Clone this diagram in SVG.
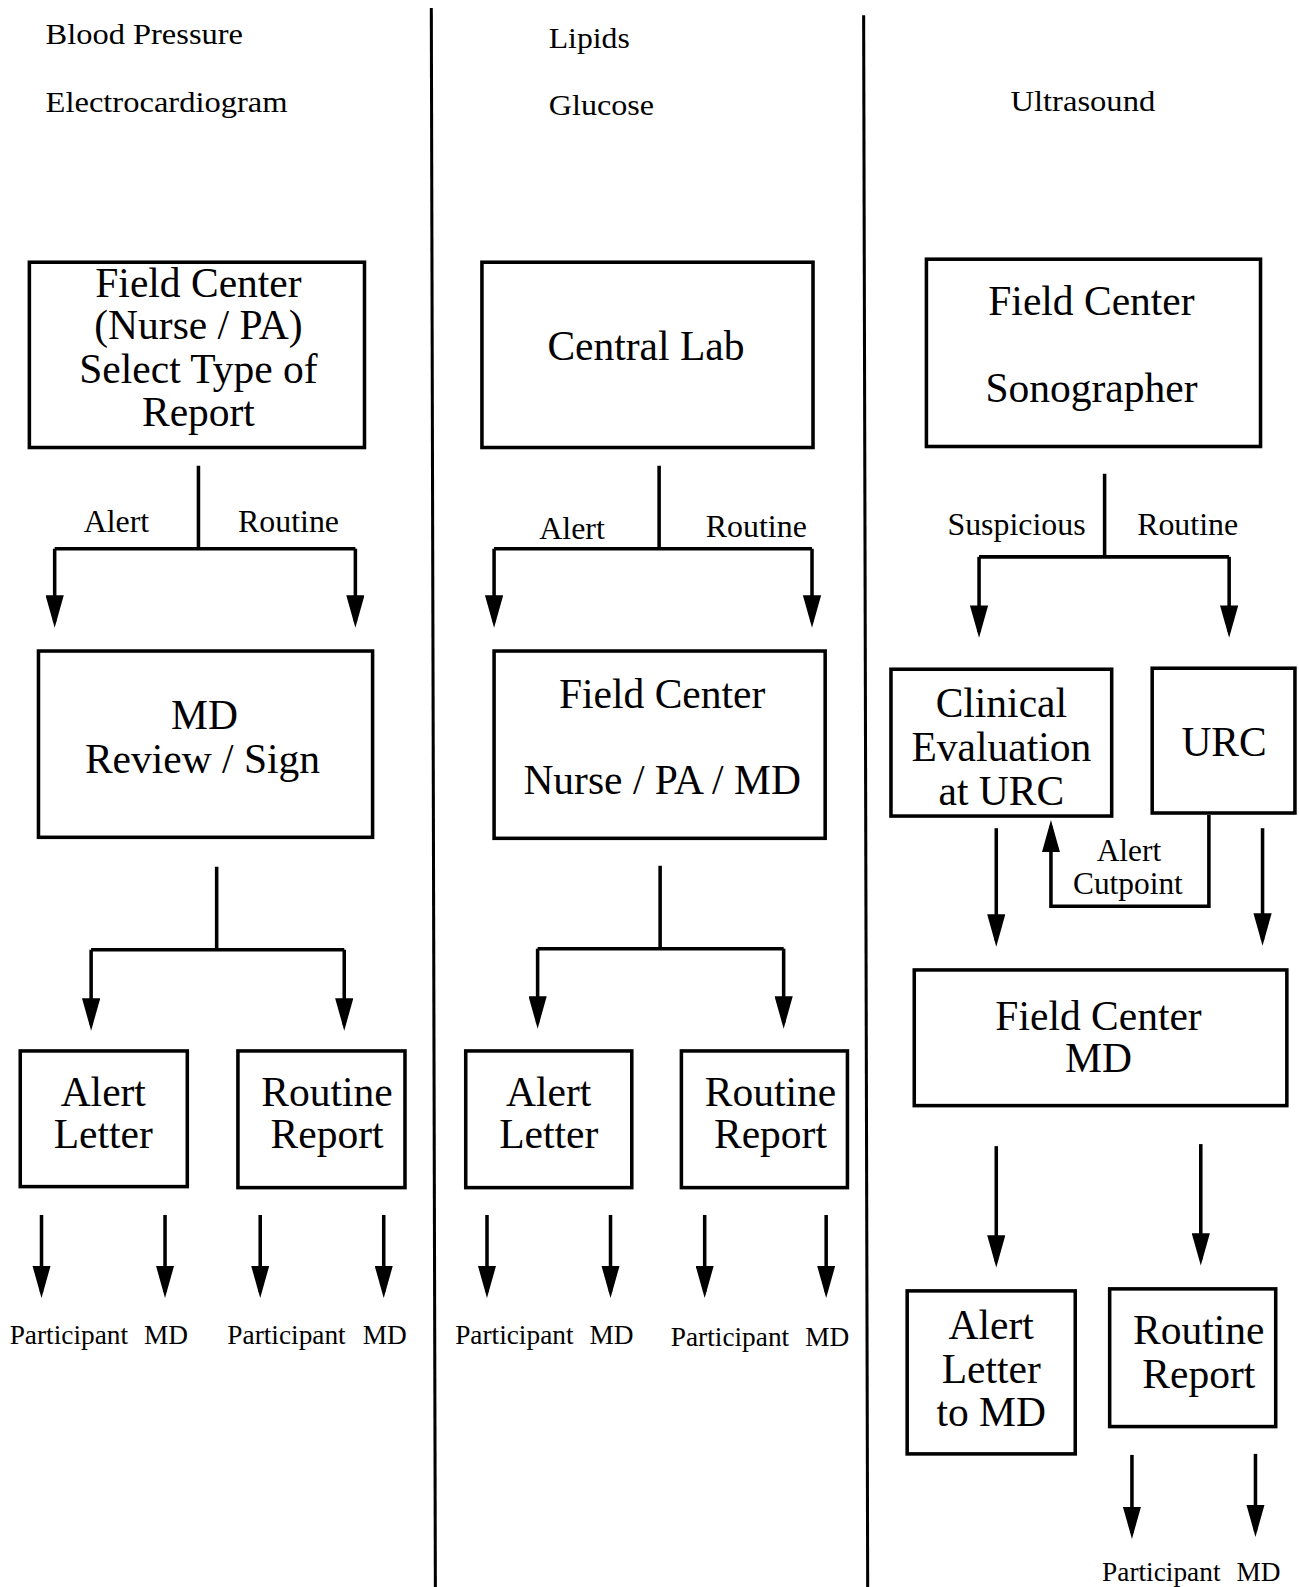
<svg xmlns="http://www.w3.org/2000/svg" width="1299" height="1587" viewBox="0 0 1299 1587">
<style>
.box{fill:none;stroke:#000;stroke-width:3.5}
.ln{fill:none;stroke:#000;stroke-width:3.5}
.arr{fill:none;stroke:#000;stroke-width:3.5;marker-end:url(#ah)}
.div{fill:none;stroke:#000;stroke-width:3}
.t40{font-family:"Liberation Serif",serif;font-size:41px;text-anchor:middle;fill:#000}
.t30{font-family:"Liberation Serif",serif;font-size:31.5px;text-anchor:middle;fill:#000}
.h{font-family:"Liberation Serif",serif;font-size:30px;fill:#000}
.t28{font-family:"Liberation Serif",serif;font-size:31px;text-anchor:middle;fill:#000}
.t26{font-family:"Liberation Serif",serif;font-size:27px;text-anchor:middle;fill:#000}
</style>
<defs>
<marker id="ah" markerUnits="userSpaceOnUse" viewBox="0 0 32 18" refX="26" refY="9" markerWidth="32" markerHeight="18" orient="auto">
<path d="M0,0 L32,9 L0,18 Z" fill="#000"/>
</marker>
</defs>
<rect width="1299" height="1587" fill="#fff"/>
<g transform="scale(1.01247)">
<g id="headers">
<text class="h" x="45" y="43" textLength="195" lengthAdjust="spacingAndGlyphs">Blood Pressure</text>
<text class="h" x="45" y="111" textLength="239" lengthAdjust="spacingAndGlyphs">Electrocardiogram</text>
<text class="h" x="542" y="47" textLength="80" lengthAdjust="spacingAndGlyphs">Lipids</text>
<text class="h" x="542" y="114" textLength="104" lengthAdjust="spacingAndGlyphs">Glucose</text>
<text class="h" x="998" y="110" textLength="143" lengthAdjust="spacingAndGlyphs">Ultrasound</text>
</g>
<g id="dividers">
<line class="div" x1="426" y1="8" x2="430" y2="1568"/>
<line class="div" x1="853" y1="15" x2="857" y2="1568"/>
</g>
<g id="connectors">
<path class="ln" d="M196,460 V542 M54,542 H351"/>
<path class="arr" d="M54,542 V614"/>
<path class="arr" d="M351,542 V614"/>
<path class="ln" d="M214,856 V938 M90,938 H340"/>
<path class="arr" d="M90,938 V1012"/>
<path class="arr" d="M340,938 V1012"/>
<path class="arr" d="M41,1200 V1276"/>
<path class="arr" d="M163,1200 V1276"/>
<path class="arr" d="M257,1200 V1276"/>
<path class="arr" d="M379,1200 V1276"/>
<path class="ln" d="M651,460 V542 M488,542 H802"/>
<path class="arr" d="M488,542 V614"/>
<path class="arr" d="M802,542 V614"/>
<path class="ln" d="M652,855 V937 M531,937 H774"/>
<path class="arr" d="M531,937 V1010"/>
<path class="arr" d="M774,937 V1010"/>
<path class="arr" d="M481,1200 V1276"/>
<path class="arr" d="M603,1200 V1276"/>
<path class="arr" d="M696,1200 V1276"/>
<path class="arr" d="M816,1200 V1276"/>
<path class="ln" d="M1091,468 V550 M967,550 H1214"/>
<path class="arr" d="M967,550 V624"/>
<path class="arr" d="M1214,550 V624"/>
<path class="arr" d="M984,818 V929"/>
<path class="arr" d="M1194,805 V895 H1038 V816"/>
<path class="arr" d="M1247,818 V928"/>
<path class="arr" d="M984,1132 V1246"/>
<path class="arr" d="M1186,1130 V1244"/>
<path class="arr" d="M1118,1437 V1514"/>
<path class="arr" d="M1240,1436 V1512"/>
</g>
<g id="labels">
<text class="t30" x="115" y="525">Alert</text>
<text class="t30" x="285" y="525">Routine</text>
<text class="t30" x="565" y="532">Alert</text>
<text class="t30" x="747" y="530">Routine</text>
<text class="t30" x="1004" y="528">Suspicious</text>
<text class="t30" x="1173" y="528">Routine</text>
<text class="t28" x="1115" y="850">Alert</text>
<text class="t28" x="1114" y="883">Cutpoint</text>
<text class="t26" x="68" y="1327">Participant</text>
<text class="t26" x="164" y="1327">MD</text>
<text class="t26" x="283" y="1327">Participant</text>
<text class="t26" x="380" y="1327">MD</text>
<text class="t26" x="508" y="1327">Participant</text>
<text class="t26" x="604" y="1327">MD</text>
<text class="t26" x="721" y="1329">Participant</text>
<text class="t26" x="817" y="1329">MD</text>
<text class="t26" x="1147" y="1562">Participant</text>
<text class="t26" x="1243" y="1562">MD</text>
</g>
<g id="n-fc-nurse">
<rect class="box" x="29" y="259" width="331" height="183"/>
<text class="t40" x="196" y="293">Field Center</text>
<text class="t40" x="196" y="335">(Nurse / PA)</text>
<text class="t40" x="196" y="378">Select Type of</text>
<text class="t40" x="196" y="421">Report</text>
</g>
<g id="n-md-review">
<rect class="box" x="38" y="643" width="330" height="184"/>
<text class="t40" x="202" y="720">MD</text>
<text class="t40" x="200" y="763">Review / Sign</text>
</g>
<g id="n-alert-1">
<rect class="box" x="20" y="1038" width="165" height="134"/>
<text class="t40" x="102" y="1092">Alert</text>
<text class="t40" x="102" y="1134">Letter</text>
</g>
<g id="n-routine-1">
<rect class="box" x="235" y="1038" width="165" height="135"/>
<text class="t40" x="323" y="1092">Routine</text>
<text class="t40" x="323" y="1134">Report</text>
</g>
<g id="n-central-lab">
<rect class="box" x="476" y="259" width="327" height="183"/>
<text class="t40" x="638" y="356">Central Lab</text>
</g>
<g id="n-fc-nurse-md">
<rect class="box" x="488" y="643" width="327" height="185"/>
<text class="t40" x="654" y="699">Field Center</text>
<text class="t40" x="654" y="784">Nurse / PA / MD</text>
</g>
<g id="n-alert-2">
<rect class="box" x="460" y="1038" width="164" height="135"/>
<text class="t40" x="542" y="1092">Alert</text>
<text class="t40" x="542" y="1134">Letter</text>
</g>
<g id="n-routine-2">
<rect class="box" x="673" y="1038" width="164" height="135"/>
<text class="t40" x="761" y="1092">Routine</text>
<text class="t40" x="761" y="1134">Report</text>
</g>
<g id="n-fc-sono">
<rect class="box" x="915" y="256" width="330" height="185"/>
<text class="t40" x="1078" y="311">Field Center</text>
<text class="t40" x="1078" y="397">Sonographer</text>
</g>
<g id="n-clinical">
<rect class="box" x="880" y="661" width="218" height="145"/>
<text class="t40" x="989" y="708">Clinical</text>
<text class="t40" x="989" y="752">Evaluation</text>
<text class="t40" x="989" y="795">at URC</text>
</g>
<g id="n-urc">
<rect class="box" x="1138" y="660" width="141" height="143"/>
<text class="t40" x="1209" y="747">URC</text>
</g>
<g id="n-fc-md">
<rect class="box" x="903" y="958" width="368" height="134"/>
<text class="t40" x="1085" y="1017">Field Center</text>
<text class="t40" x="1085" y="1059">MD</text>
</g>
<g id="n-alert-md">
<rect class="box" x="896" y="1275" width="166" height="161"/>
<text class="t40" x="979" y="1323">Alert</text>
<text class="t40" x="979" y="1366">Letter</text>
<text class="t40" x="979" y="1408">to MD</text>
</g>
<g id="n-routine-3">
<rect class="box" x="1096" y="1273" width="164" height="136"/>
<text class="t40" x="1184" y="1327">Routine</text>
<text class="t40" x="1184" y="1371">Report</text>
</g>
</g>
</svg>
